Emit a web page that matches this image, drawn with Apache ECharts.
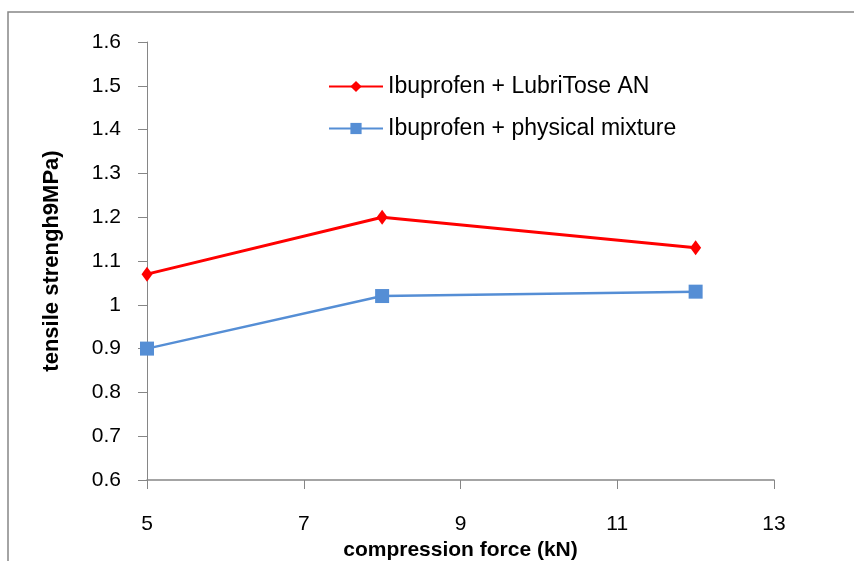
<!DOCTYPE html>
<html>
<head>
<meta charset="utf-8">
<script src="https://cdn.jsdelivr.net/npm/echarts@6/dist/echarts.min.js"></script>
<style>
html,body{margin:0;padding:0;background:#fff;}
#main{width:854px;height:561px;}
</style>
</head>
<body>
<div id="main"></div>
<script>
// 数据
var forces = [5, 8, 12];
var lubriTose = [1.07, 1.2, 1.13];
var physMix = [0.9, 1.02, 1.03];
var seriesNames = ['Ibuprofen + LubriTose AN', 'Ibuprofen + physical mixture'];

var fontName = 'Liberation Sans';
var axisGrey = '#868686';

function pairs(xs, ys) {
    var out = [];
    for (var i = 0; i < xs.length; i++) {
        out.push([xs[i], ys[i]]);
    }
    return out;
}

var myChart = echarts.init(document.getElementById('main'));
var option = {
    backgroundColor: '#fff',
    animation: false,
    graphic: [{
        type: 'rect',
        shape: {x: 8, y: 12, width: 900, height: 600},
        style: {fill: 'none', stroke: '#878787', lineWidth: 1.5}
    }],
    grid: {
        left: 147,
        right: 80,
        top: 42,
        bottom: 81,
        containLabel: false,
        outerBoundsMode: 'none'
    },
    legend: {
        orient: 'vertical',
        left: 323,
        top: 70,
        itemWidth: 54,
        itemHeight: 14,
        itemGap: 19,
        textStyle: {fontFamily: fontName, fontSize: 23, color: '#000'},
        data: seriesNames
    },
    xAxis: {
        type: 'value',
        min: 5,
        max: 13,
        interval: 2,
        name: 'compression force (kN)',
        nameLocation: 'middle',
        nameGap: 57,
        nameTextStyle: {fontFamily: fontName, fontSize: 21, fontWeight: 'bold', color: '#000'},
        axisLine: {show: true, lineStyle: {color: axisGrey, width: 1.5}},
        axisTick: {show: true, length: 9, lineStyle: {color: axisGrey}},
        splitLine: {show: false},
        axisLabel: {fontFamily: fontName, fontSize: 21, color: '#000', margin: 34}
    },
    yAxis: {
        type: 'value',
        min: 0.6,
        max: 1.6,
        interval: 0.1,
        name: 'tensile strengh9MPa)',
        nameLocation: 'middle',
        nameGap: 84,
        nameTextStyle: {fontFamily: fontName, fontSize: 22, fontWeight: 'bold', color: '#000'},
        axisLine: {show: true, lineStyle: {color: axisGrey, width: 1}},
        axisTick: {show: true, length: 9, lineStyle: {color: axisGrey}},
        splitLine: {show: false},
        axisLabel: {
            fontFamily: fontName, fontSize: 21, color: '#000', margin: 26,
            formatter: function (v) { return String(Math.round(v * 10) / 10); }
        }
    },
    series: [
        {
            name: seriesNames[0],
            type: 'line',
            data: pairs(forces, lubriTose),
            symbol: 'diamond',
            symbolSize: [11, 15],
            itemStyle: {color: '#ff0000'},
            lineStyle: {color: '#ff0000', width: 3}
        },
        {
            name: seriesNames[1],
            type: 'line',
            data: pairs(forces, physMix),
            symbol: 'rect',
            symbolSize: 14,
            itemStyle: {color: '#558ed5'},
            lineStyle: {color: '#558ed5', width: 2.5}
        }
    ]
};
myChart.setOption(option);
</script>
</body>
</html>
